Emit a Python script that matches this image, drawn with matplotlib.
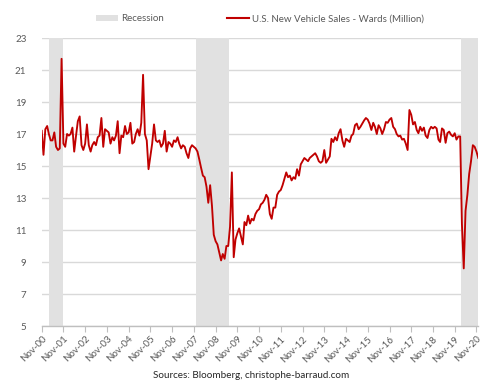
import matplotlib
matplotlib.use("Agg")
import matplotlib.pyplot as plt
from matplotlib.lines import Line2D
from matplotlib.patches import Patch
import pandas as pd

# ---- data (monthly, Nov-2000 .. Dec-2020), millions SAAR ----
y2000 = [17.2, 15.7]
y2001 = [17.3, 17.5, 17.0, 16.6, 16.6, 17.1, 16.2, 16.0, 16.1, 21.7, 16.4, 16.2]
y2002 = [17.0, 16.9, 17.0, 17.4, 15.9, 16.9, 17.8, 18.1, 16.3, 16.0, 16.4, 17.6]
y2003 = [16.3, 15.9, 16.3, 16.5, 16.3, 16.8, 16.9, 18.0, 16.2, 17.3, 17.2, 17.1]
y2004 = [16.4, 16.8, 16.6, 16.9, 17.8, 15.8, 16.9, 16.8, 17.5, 17.0, 17.1, 17.7]
y2005 = [16.4, 16.5, 17.0, 17.3, 16.9, 17.7, 20.7, 17.0, 16.6, 14.8, 15.6, 16.4]
y2006 = [17.6, 16.6, 16.5, 16.6, 16.2, 16.4, 17.2, 15.9, 16.5, 16.4, 16.2, 16.6]
y2007 = [16.5, 16.8, 16.4, 16.1, 16.3, 16.2, 15.8, 15.5, 16.1, 16.3, 16.2, 16.1]
y2008 = [15.9, 15.4, 14.9, 14.4, 14.3, 13.7, 12.7, 13.8, 12.5, 10.7, 10.3, 10.1]
y2009 = [9.6, 9.1, 9.5, 9.2, 10.0, 10.0, 11.2, 14.6, 9.3, 10.4, 10.8, 11.1]
y2010 = [10.6, 10.1, 11.5, 11.3, 11.9, 11.4, 11.7, 11.6, 12.0, 12.2, 12.3, 12.6]
y2011 = [12.7, 12.9, 13.2, 13.0, 12.0, 11.7, 12.4, 12.4, 13.2, 13.4, 13.5, 13.8]
y2012 = [14.2, 14.6, 14.3, 14.4, 14.1, 14.3, 14.2, 14.8, 14.4, 15.1, 15.3, 15.5]
y2013 = [15.4, 15.3, 15.5, 15.6, 15.7, 15.8, 15.6, 15.3, 15.2, 15.3, 16.0, 15.2]
y2014 = [15.4, 15.6, 16.7, 16.5, 16.8, 16.6, 17.05, 17.3, 16.6, 16.2, 16.7, 16.6]
y2015 = [16.5, 16.9, 17.0, 17.55, 17.65, 17.3, 17.45, 17.65, 17.85, 18.0, 17.9, 17.65]
y2016 = [17.25, 17.7, 17.45, 17.0, 17.55, 17.35, 17.0, 17.3, 17.75, 17.7, 17.9, 18.0]
y2017 = [17.45, 17.3, 17.0, 16.85, 16.9, 16.65, 16.7, 16.4, 16.0, 18.5, 18.2, 17.6]
y2018 = [17.75, 17.25, 17.05, 17.45, 17.2, 17.4, 16.9, 16.75, 17.25, 17.45, 17.35, 17.45]
y2019 = [17.35, 16.65, 16.5, 17.35, 17.25, 16.45, 17.05, 17.15, 16.95, 16.85, 17.05, 16.65]
y2020 = [16.85, 16.85, 11.4, 8.6, 12.2, 13.2, 14.5, 15.3, 16.3, 16.2, 15.9, 15.5]

sales = (y2000 + y2001 + y2002 + y2003 + y2004 + y2005 + y2006 + y2007 + y2008
         + y2009 + y2010 + y2011 + y2012 + y2013 + y2014 + y2015 + y2016
         + y2017 + y2018 + y2019 + y2020)
start_month = "2000-11-01"

recessions = [("2001-03-01", "2001-11-01"),
              ("2007-12-01", "2009-06-20"),
              ("2020-02-15", "2021-01-01")]

yticks = [5, 7, 9, 11, 13, 15, 17, 19, 21, 23]
series_label = "U.S. New Vehicle Sales - Wards (Million)"
recession_label = "Recession"
source_text = "Sources: Bloomberg, christophe-barraud.com"

dates = pd.date_range(start_month, periods=len(sales), freq="MS")

# ---- styling ----
plt.rcParams["font.family"] = ["Lato", "DejaVu Sans"]
red = "#C00000"
gray_txt = "#595959"
grid_col = "#D9D9D9"
rec_col = "#E1E1E1"

fig = plt.figure(figsize=(5.0, 3.87), dpi=100)
ax = fig.add_axes([0.0834, 0.1576, 0.8716, 0.7442])

for s, e in recessions:
    ax.axvspan(pd.Timestamp(s), pd.Timestamp(e), color=rec_col, lw=0, zorder=1)

ax.plot(dates, sales, color=red, lw=1.35, zorder=3, solid_joinstyle="round")

ax.set_ylim(5, 23)
ax.set_yticks(yticks)
ax.set_xlim(pd.Timestamp("2000-11-01"), pd.Timestamp("2020-11-18"))

tick_dates = pd.date_range("2000-11-01", "2020-11-01", freq="12MS")
ax.set_xticks(tick_dates)
ax.set_xticklabels([d.strftime("%b-%y") for d in tick_dates], rotation=45,
                   ha="right", rotation_mode="anchor")

ax.grid(axis="y", color=grid_col, lw=1.0, zorder=0)
ax.set_axisbelow(True)
for sp in ["top", "right", "left"]:
    ax.spines[sp].set_visible(False)
ax.spines["bottom"].set_color("#BFBFBF")
ax.spines["bottom"].set_linewidth(1.0)
ax.tick_params(axis="y", length=0, labelsize=7, labelcolor=gray_txt, pad=11)
ax.tick_params(axis="x", length=4, color="#BFBFBF", labelsize=7,
               labelcolor=gray_txt, pad=2)

handles = [Patch(facecolor=rec_col, edgecolor="none", label=recession_label),
           Line2D([0], [0], color=red, lw=1.5, label=series_label)]
leg = fig.legend(handles=handles, loc="center", bbox_to_anchor=(0.52, 0.951),
                 ncol=2, frameon=False, fontsize=7, handlelength=2.3,
                 handleheight=0.6, columnspacing=6.5, handletextpad=0.3)
for t in leg.get_texts():
    t.set_color(gray_txt)

fig.text(0.502, 0.031, source_text, ha="center", va="center", fontsize=7.1,
         color="#262626")

fig.savefig("out.png", dpi=100)
